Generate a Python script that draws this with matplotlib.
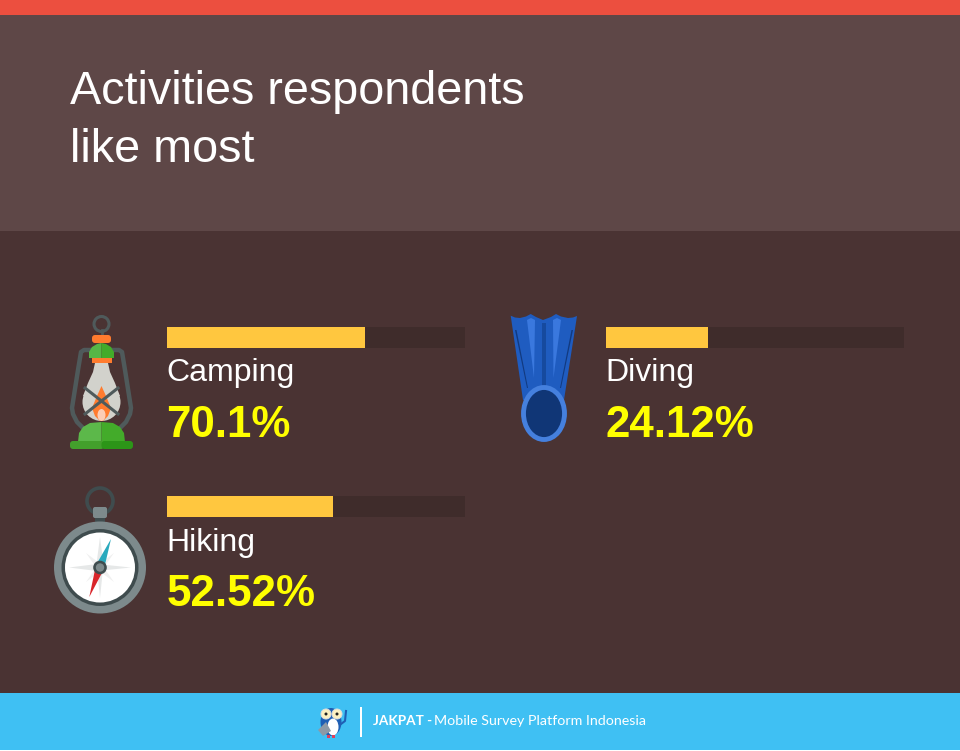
import matplotlib
matplotlib.use("Agg")
import matplotlib.pyplot as plt
from matplotlib.patches import Rectangle, Circle, Ellipse, Polygon, FancyBboxPatch

plt.rcParams['font.family'] = ['Liberation Sans', 'DejaVu Sans']

# data
activities = ["Camping", "Diving", "Hiking"]
labels = ["70.1%", "24.12%", "52.52%"]
bar_fill = [66.4, 34.2, 55.7]  # as drawn, not the same as the printed labels
bar_x = [167, 606, 167]
bar_y = [337.5, 337.5, 506.5]
BAR_W = 298

fig = plt.figure(figsize=(9.6, 7.51), dpi=100)
ax = fig.add_axes([0, 0, 1, 1])
ax.set_xlim(0, 960)
ax.set_ylim(751, 0)
ax.axis("off")


def rect(x, y, w, h, c, z=1):
    ax.add_patch(Rectangle((x, y), w, h, fc=c, ec="none", zorder=z))


def poly(pts, c, z=3):
    ax.add_patch(Polygon(pts, closed=True, fc=c, ec="none", zorder=z))


def rbox(x, y, w, h, r, c, z=3):
    ax.add_patch(FancyBboxPatch((x + r, y + r), w - 2 * r, h - 2 * r,
                                boxstyle="round,pad=%f" % r, fc=c, ec="none", zorder=z))


# Background bands
rect(0, 0, 960, 751, "#4a3333", 0)
rect(0, 0, 960, 15, "#ec4f3f")
rect(0, 15, 960, 216, "#5e4747")
rect(0, 693, 960, 57, "#3fc0f3")
rect(0, 750, 960, 1, "#ffffff")

ax.text(70, 91.5, "Activities respondents", color="white", fontsize=33.7, va="center", ha="left")
ax.text(70, 150.5, "like most", color="white", fontsize=33.7, va="center", ha="left")

# Bars
for i in range(len(activities)):
    ax.barh(bar_y[i], BAR_W, height=21, left=bar_x[i], color="#3f2c2b", zorder=2)
    ax.barh(bar_y[i], BAR_W * bar_fill[i] / 100, height=21, left=bar_x[i], color="#ffc73f", zorder=3)
    ax.text(bar_x[i] - 0.5, bar_y[i] + 36, activities[i], color="white", fontsize=23, va="center", ha="left")
    ax.text(bar_x[i] - 0.5, bar_y[i] + 88, labels[i], color="#ffff00", fontsize=31.6, fontweight="bold",
            va="center", ha="left")

# Lantern
GREY = "#4f5a5b"
ax.add_patch(Circle((101.5, 324), 7.5, fc="none", ec=GREY, lw=2.2, zorder=3))
ax.plot([101.5, 101.5], [330, 336], color=GREY, lw=2, zorder=3)
ax.plot([90, 84, 81, 78, 72, 73, 77, 84], [350, 350, 352, 370, 408, 414, 422, 429], color=GREY, lw=3.2,
        zorder=3, solid_joinstyle="round")
ax.plot([113, 119, 122, 125, 131, 130, 126, 119], [350, 350, 352, 370, 408, 414, 422, 429], color=GREY, lw=3.2,
        zorder=3, solid_joinstyle="round")
rbox(92, 335, 19, 8, 3, "#ff7b2e", 4)
poly([(101.5, 358), (89, 358), (89, 352), (92, 347), (97, 344), (101.5, 343)], "#57b646", 5)
poly([(101.5, 358), (114, 358), (114, 352), (111, 347), (106, 344), (101.5, 343)], "#43ab2a", 5)
rect(92, 358, 20, 5, "#ff7b2e", 6)
poly([(95, 363), (108, 363), (110, 372), (115, 383), (120, 396), (83, 396), (88, 383), (93, 372)], "#d2d2cc", 4)
ax.add_patch(Ellipse((101.5, 402), 38, 38, fc="#d2d2cc", ec="none", zorder=4))
poly([(101.5, 386), (106, 396), (111, 408), (108, 416), (103, 421), (100, 421), (95, 416), (92, 408), (97, 396)],
     "#ff7b2e", 5)
ax.add_patch(Ellipse((101.5, 415), 8, 12, fc="#fbcdb5", ec="none", zorder=6))
ax.plot([85, 118], [388, 414], color=GREY, lw=2.2, zorder=7)
ax.plot([118, 85], [388, 414], color=GREY, lw=2.2, zorder=7)
poly([(101.5, 422), (90, 423), (83, 427), (79, 433), (78, 442), (101.5, 442)], "#5cb84a", 4)
poly([(101.5, 422), (113, 423), (120, 427), (124, 433), (125, 442), (101.5, 442)], "#43ab2a", 4)
rbox(70, 441, 34, 8, 3, "#43a02c", 5)
rbox(101.5, 441, 31.5, 8, 3, "#2c9518", 6)

# Compass
ax.add_patch(Circle((100, 501), 13, fc="none", ec="#3f4c4e", lw=2.6, zorder=3))
rbox(93, 507, 14, 11, 2, "#7d8a8c", 4)
rect(95, 517, 10, 6, "#3f4c4e", 3)
ax.add_patch(Circle((100, 567.5), 46, fc="#7d8a8c", ec="none", zorder=3))
ax.add_patch(Circle((100, 567.5), 38.5, fc="#3f4c4e", ec="none", zorder=4))
ax.add_patch(Circle((100, 567.5), 35, fc="white", ec="none", zorder=5))
poly([(86, 553), (102, 565), (114, 582), (98, 570)], "#f0f0f0", 6)
poly([(114, 553), (102, 570), (86, 582), (98, 565)], "#f0f0f0", 6)
poly([(100, 537), (103.5, 564), (100, 598), (96.5, 564)], "#e6e8e8", 6)
poly([(69, 567.5), (97, 564), (131, 567.5), (97, 571)], "#e6e8e8", 6)
poly([(111, 539), (104, 569), (96, 565)], "#29a9bd", 7)
poly([(89.3, 597), (96, 565), (104, 569)], "#d9252a", 7)
ax.add_patch(Circle((100, 567.5), 6.8, fc="#3f4c4e", ec="none", zorder=8))
ax.add_patch(Circle((100, 567.5), 4.2, fc="#7d8a8c", ec="none", zorder=9))

# Fin
poly([(510.7, 315.7), (515, 317.5), (520, 318), (526, 316.5), (530.7, 314), (536, 317), (543, 320), (551, 317),
      (556, 314), (561, 316.5), (568, 318), (573, 317.5), (577, 316), (564, 400), (523, 400)], "#1f5cc0", 3)
poly([(515, 330), (516.5, 330), (528, 388), (527, 388)], "#123a80", 4)
poly([(573, 330), (571.5, 330), (560, 388), (561, 388)], "#123a80", 4)
poly([(527, 320), (531, 318), (535, 320), (534, 378)], "#3a78de", 4)
poly([(561, 320), (557, 318), (553, 320), (553.5, 378)], "#3a78de", 4)
poly([(541.7, 323), (546, 323), (546, 390), (542, 390)], "#164a9f", 4)
ax.add_patch(Ellipse((544, 413.5), 41, 52, fc="#103676", ec="#4580de", lw=3.5, zorder=5))

# Footer
OWL = "#1f5fb4"
ax.add_patch(Ellipse((331, 722), 21, 28, fc=OWL, ec="none", zorder=3))
ax.add_patch(Ellipse((333, 727), 11, 17, fc="white", ec="none", zorder=4))
poly([(318, 730), (326, 722), (331, 731), (323, 736)], "#8d99a6", 5)
ax.add_patch(Circle((326, 714), 5, fc="#fdf0c0", ec="#dddddd", lw=0.7, zorder=5))
ax.add_patch(Circle((337, 714), 5, fc="#fdf0c0", ec="#dddddd", lw=0.7, zorder=5))
ax.add_patch(Circle((326, 714), 1.5, fc="#222222", ec="none", zorder=6))
ax.add_patch(Circle((337, 714), 1.5, fc="#222222", ec="none", zorder=6))
ax.plot([341, 345, 346], [724, 721, 711], color=OWL, lw=1.5, zorder=3)
rect(327, 735, 3, 3, "#e0405c", 4)
rect(332, 735, 3, 3, "#e0405c", 4)
rect(359.5, 707, 2, 30, "white", 3)
ax.text(373, 721, "JAKPAT -", color="white", fontsize=9.8, fontweight="bold",
        va="center", ha="left", family="Lato")
ax.text(434, 721, "Mobile Survey Platform Indonesia", color="white", fontsize=10.3,
        va="center", ha="left", family="Lato")

fig.savefig("out.png", dpi=100, facecolor="#4a3333")
